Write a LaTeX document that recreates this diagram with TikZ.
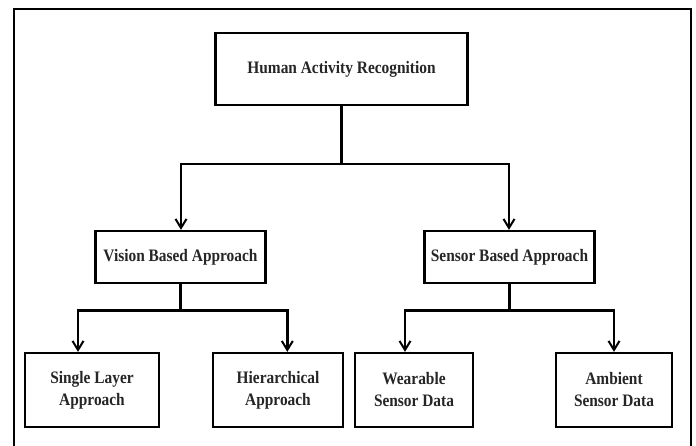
\documentclass[tikz,border=0pt]{standalone}
\usepackage{fontspec}
\setmainfont{Liberation Serif}[FakeStretch=0.88]
\usetikzlibrary{arrows.meta}
\begin{document}
\begin{tikzpicture}[x=1pt,y=-1pt,
  box/.style={draw=black, line width=2.3pt, fill=white, inner sep=0pt, align=center,
    font=\fontsize{17.5}{22}\selectfont\bfseries, text=black!85},
  conn/.style={line width=2.8pt, line join=miter},
  arr/.style={conn, -{Straight Barb[length=9pt,width=11pt,line width=2pt]}}]
\fill[white] (0,0) rectangle (696,445);
\useasboundingbox (0,0) rectangle (696,445);
\draw[line width=2pt] (14,455) -- (14,9) -- (691,9) -- (691,455);
% nodes
\node[box, minimum width=252pt, minimum height=72pt] (har) at (341.5,69) {Human Activity Recognition};
\node[box, minimum width=170pt, minimum height=52pt] (vba) at (180.5,257) {Vision Based Approach};
\node[box, minimum width=170pt, minimum height=52pt] (sba) at (509.5,257) {Sensor Based Approach};
\node[box, minimum width=134pt, minimum height=74pt] (sl) at (92,390) {Single Layer\\Approach};
\node[box, minimum width=130pt, minimum height=74pt] (hi) at (278,390) {\raisebox{3pt}{\begin{tabular}{@{}c@{}}Hierarchical\\Approach\end{tabular}}};
\node[box, minimum width=118pt, minimum height=74pt] (we) at (414,390) {Wearable\\Sensor Data};
\node[box, minimum width=116pt, minimum height=74pt] (am) at (614,390) {Ambient\\Sensor Data};
% branch coordinates
\coordinate (t1) at (181,164);
\coordinate (t2) at (509,164);
\coordinate (v1) at (78,310.7);
\coordinate (v2) at (287.3,310.7);
\coordinate (s1) at (405,310.7);
\coordinate (s2) at (614,310.7);
% connectors
\draw[arr] (har.south) -- (har.south |- t1) -- (t1) -- (t1 |- vba.north);
\draw[arr] (har.south) -- (har.south |- t2) -- (t2) -- (t2 |- sba.north);
\draw[arr] (vba.south) -- (vba.south |- v1) -- (v1) -- (v1 |- sl.north);
\draw[arr] (vba.south) -- (vba.south |- v2) -- (v2) -- (v2 |- hi.north);
\draw[arr] (sba.south) -- (sba.south |- s1) -- (s1) -- (s1 |- we.north);
\draw[arr] (sba.south) -- (sba.south |- s2) -- (s2) -- (s2 |- am.north);
\end{tikzpicture}
\end{document}
